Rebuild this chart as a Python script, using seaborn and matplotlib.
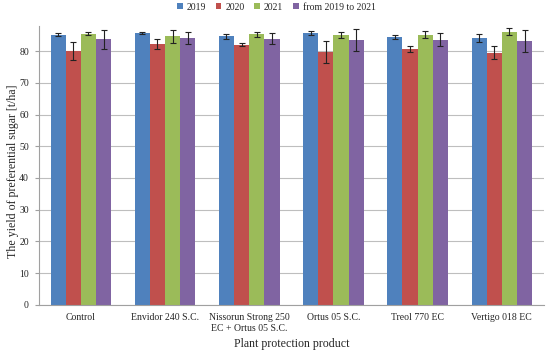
import matplotlib
matplotlib.use("Agg")
import matplotlib.pyplot as plt
import seaborn as sns
import pandas as pd
import numpy as np

products = ["Control", "Envidor 240 S.C.", "Nissorun Strong 250\nEC + Ortus 05 S.C.",
            "Ortus 05 S.C.", "Treol 770 EC", "Vertigo 018 EC"]
series = ["2019", "2020", "2021", "from 2019 to 2021"]
v2019 = [85.2, 85.7, 84.7, 85.7, 84.4, 84.2]
v2020 = [80.0, 82.2, 82.1, 79.7, 80.8, 79.5]
v2021 = [85.5, 84.7, 85.3, 85.2, 85.2, 86.2]
vall = [83.7, 84.2, 84.0, 83.6, 83.6, 83.3]
e2019 = [0.4, 0.4, 0.7, 0.6, 0.7, 1.3]
e2020 = [2.8, 1.5, 0.4, 3.4, 0.9, 2.1]
e2021 = [0.4, 2.0, 0.9, 0.9, 1.1, 1.2]
eall = [3.0, 2.0, 1.7, 3.5, 2.0, 3.4]
colors = ["#4F81BD", "#C0504D", "#9BBB59", "#8064A2"]

vals = [v2019, v2020, v2021, vall]
errs = [e2019, e2020, e2021, eall]
rows = []
for s, vv, ee in zip(series, vals, errs):
    for p, v, e in zip(products, vv, ee):
        rows.append({"product": p, "series": s, "value": v, "err": e})
df = pd.DataFrame(rows)

sns.set_style("white")
plt.rcParams["font.family"] = ["Liberation Serif", "DejaVu Serif"]

fig = plt.figure(figsize=(5.5, 3.54), dpi=100)
ax = fig.add_axes([0.0704, 0.139, 0.9186, 0.788])
sns.barplot(data=df, x="product", y="value", hue="series", palette=colors,
            errorbar=None, width=0.72, saturation=1, ax=ax, edgecolor="none")

# error bars from bar positions
for cont, s in zip(ax.containers, series):
    sub = df[df["series"] == s]
    xs = [b.get_x() + b.get_width() / 2 for b in cont]
    hs = [b.get_height() for b in cont]
    ax.errorbar(xs, hs, yerr=sub["err"].values, fmt="none", ecolor="#222222",
                elinewidth=0.8, capsize=2, capthick=0.8, zorder=5)

ax.set_ylim(0, 88)
ax.set_xlim(-0.5, 5.5)
ax.set_yticks(np.arange(0, 90, 10))
ax.yaxis.grid(True, color="#BEBEBE", linewidth=0.8)
ax.set_axisbelow(True)
for sp in ["top", "right"]:
    ax.spines[sp].set_visible(False)
for sp in ["left", "bottom"]:
    ax.spines[sp].set_color("#A0A0A0")
    ax.spines[sp].set_linewidth(0.8)

ax.set_xticks(np.arange(6))
ax.set_xticklabels(products, fontsize=7)
ax.tick_params(axis="x", length=0, pad=6)
ax.set_xticks(np.arange(-0.5, 6, 1), minor=True)
ax.tick_params(axis="x", which="minor", length=3, color="#A0A0A0", direction="out")
ax.tick_params(axis="y", labelsize=7, length=3, color="#A0A0A0", direction="out", left=True, pad=4)

ax.set_xlabel("Plant protection product", fontsize=8.6, va="center")
ax.xaxis.set_label_coords(0.5, -0.141)
ax.set_ylabel("The yield of preferential sugar [t/ha]", fontsize=8.6, va="center")
ax.yaxis.set_label_coords(-0.051, 0.479)

leg = ax.legend(loc="upper center", bbox_to_anchor=(0.47, 1.115), ncol=4, frameon=False,
                fontsize=7, handlelength=0.6, handleheight=0.6, handletextpad=0.4,
                columnspacing=1.0)

fig.savefig("out.png", dpi=100)
